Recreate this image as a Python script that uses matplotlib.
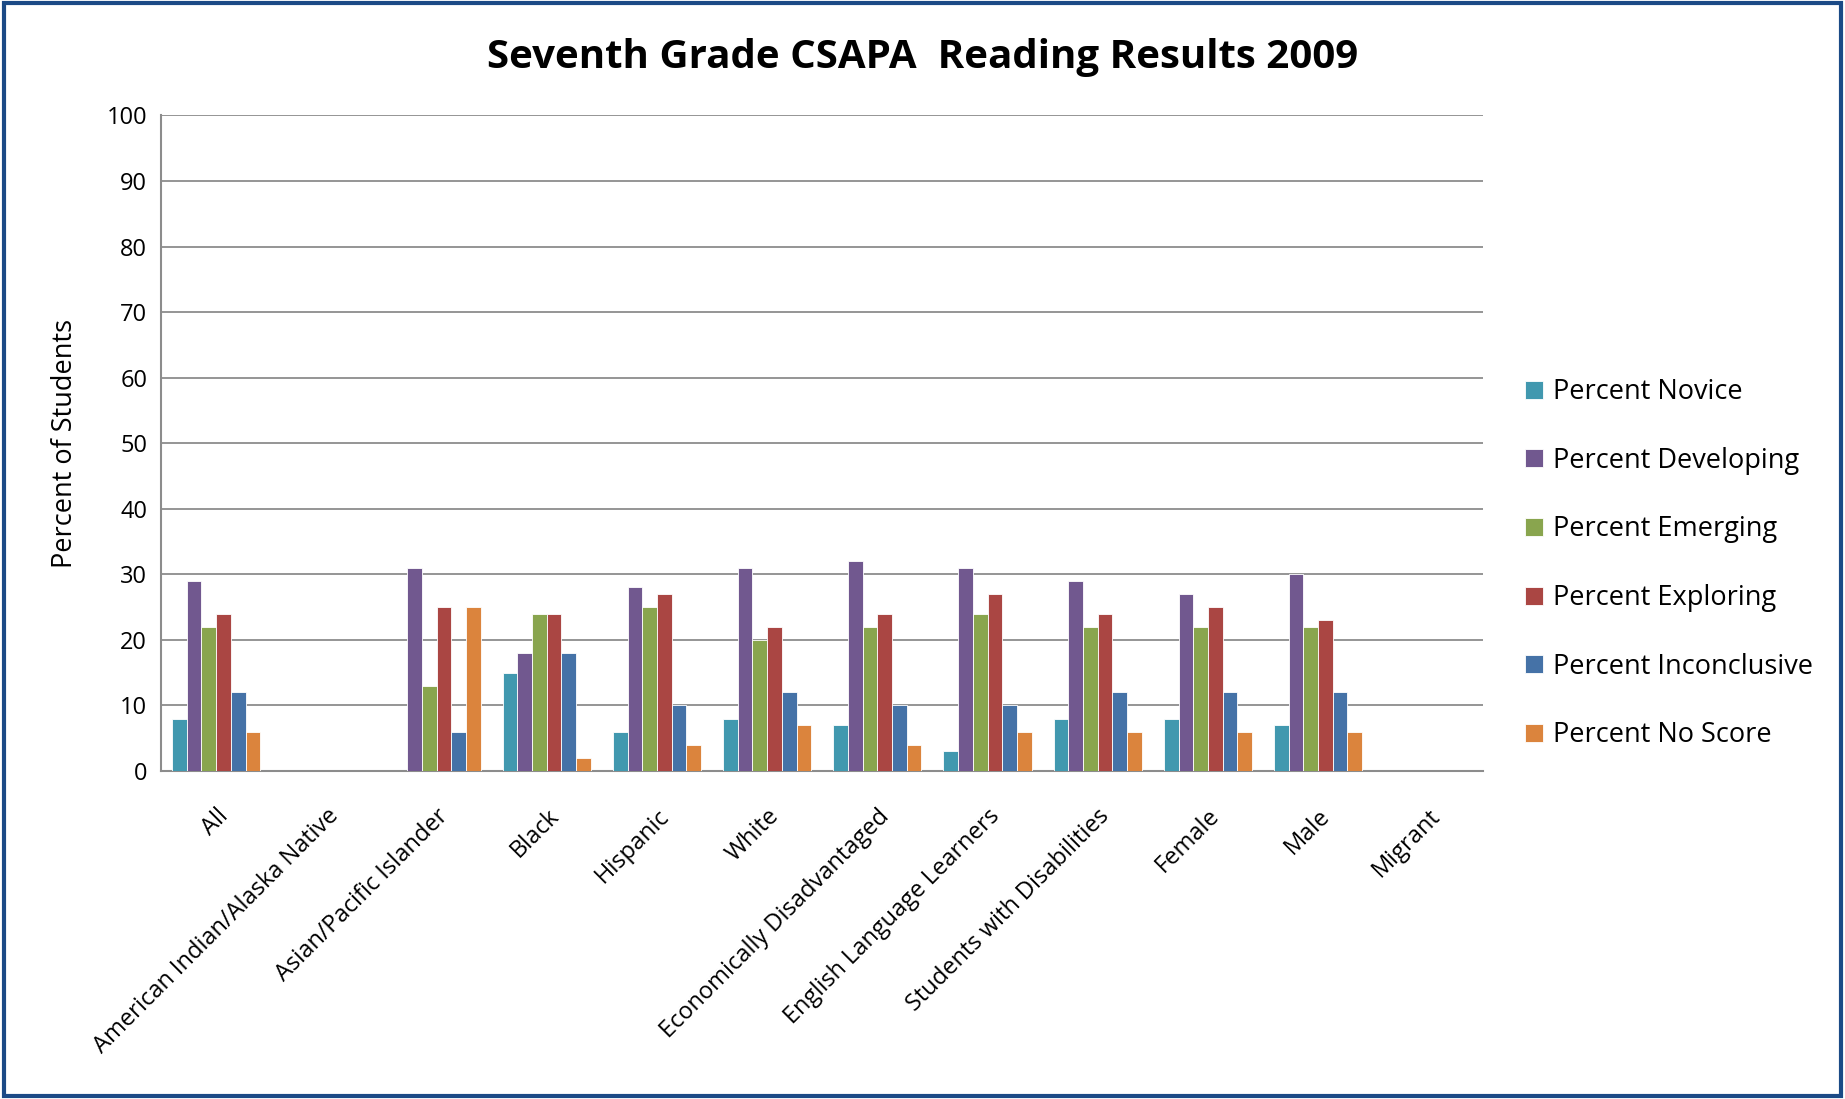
import numpy as np
import matplotlib.pyplot as plt
from matplotlib.patches import Rectangle

plt.rcParams['font.family'] = ['Open Sans', 'DejaVu Sans']

# Data
groups = ["All", "American Indian/Alaska Native", "Asian/Pacific Islander", "Black",
          "Hispanic", "White", "Economically Disadvantaged", "English Language Learners",
          "Students with Disabilities", "Female", "Male", "Migrant"]
series_names = ["Percent Novice", "Percent Developing", "Percent Emerging",
                "Percent Exploring", "Percent Inconclusive", "Percent No Score"]
novice       = [8, 0, 0, 15, 6, 8, 7, 3, 8, 8, 7, 0]
developing   = [29, 0, 31, 18, 28, 31, 32, 31, 29, 27, 30, 0]
emerging     = [22, 0, 13, 24, 25, 20, 22, 24, 22, 22, 22, 0]
exploring    = [24, 0, 25, 24, 27, 22, 24, 27, 24, 25, 23, 0]
inconclusive = [12, 0, 6, 18, 10, 12, 10, 10, 12, 12, 12, 0]
no_score     = [6, 0, 25, 2, 4, 7, 4, 6, 6, 6, 6, 0]
colors = ["#4198AF", "#71588F", "#89A54E", "#AA4643", "#4572A7", "#DB843D"]

series = [novice, developing, emerging, exploring, inconclusive, no_score]

fig = plt.figure(figsize=(18.45, 10.99), dpi=100)
ax = fig.add_axes([0.0873, 0.2985, 0.7167, 0.5965])

x = np.arange(len(groups))
w = 0.8 / len(series)
for i, (vals, name, c) in enumerate(zip(series, series_names, colors)):
    ax.bar(x - 0.4 + w * (i + 0.5), vals, width=w, color=c, label=name,
           edgecolor="white", linewidth=0.6, zorder=3)

ax.set_ylim(0, 100)
ax.set_xlim(-0.5, len(groups) - 0.5)
ax.set_yticks(range(0, 101, 10))
ax.yaxis.grid(True, color="#8c8c8c", linewidth=1.3, zorder=0)
ax.set_axisbelow(True)
for s in ["top", "right"]:
    ax.spines[s].set_visible(False)
for s in ["left", "bottom"]:
    ax.spines[s].set_color("#8c8c8c")
    ax.spines[s].set_linewidth(1.5)
ax.tick_params(axis="both", length=0, labelsize=17, pad=10)
ax.set_xticks(x)
ax.set_xticklabels(groups, rotation=45, ha="right", rotation_mode="anchor", fontsize=17)
ax.tick_params(axis="x", pad=24)
ax.set_ylabel("Percent of Students", fontsize=19.5, labelpad=20)

fig.suptitle("Seventh Grade CSAPA  Reading Results 2009", fontsize=29,
             fontweight="bold", y=0.965, x=0.5)

ax.legend(loc="center left", bbox_to_anchor=(1.013, 0.316), frameon=False,
          fontsize=19.5, labelspacing=1.5, handlelength=0.65, handleheight=0.65,
          handletextpad=0.4)

fig.patches.append(Rectangle((0.002, 0.003), 0.996, 0.994, transform=fig.transFigure,
                             fill=False, edgecolor="#1B4A86", linewidth=3))

fig.savefig("out.png", dpi=100)
